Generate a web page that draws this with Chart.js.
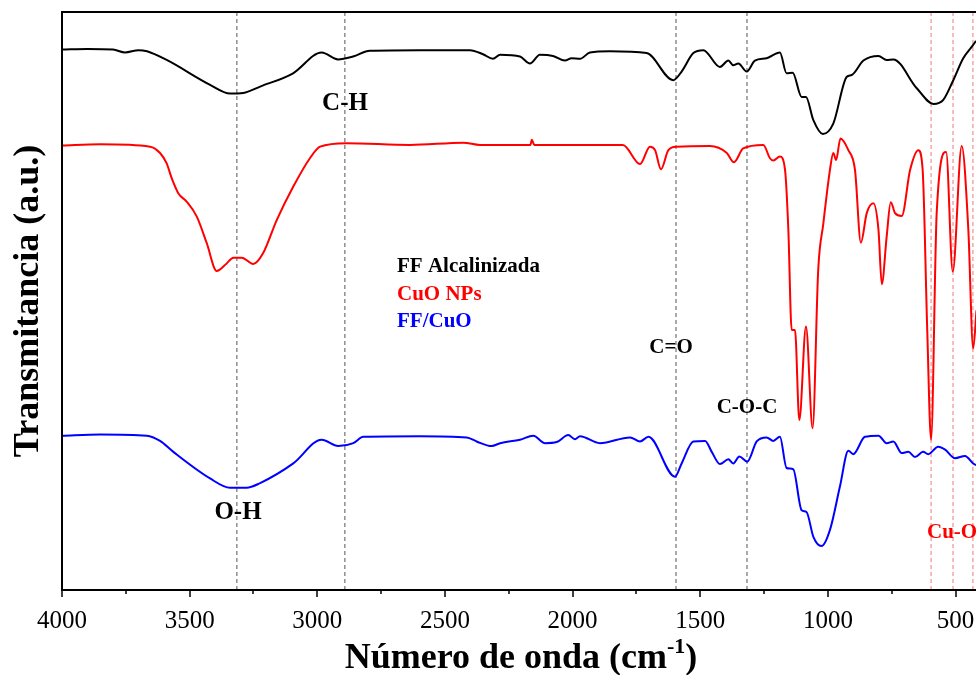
<!DOCTYPE html>
<html lang="es">
<head>
  <meta charset="UTF-8">
  <title>FTIR FF / CuO</title>
  <script src="https://cdn.jsdelivr.net/npm/chart.js"></script>
  <style>
    * {
      margin: 0;
      padding: 0;
      box-sizing: border-box;
    }

    body {
      background: #fff;
    }

    .chart-box {
      width: 976px;
      height: 675px;
      position: relative;
    }
  </style>
</head>
<body>
  <div class="chart-box">
    <canvas id="ftir-chart"></canvas>
  </div>

  <script>
    // wavenumbers (cm-1) and transmittance (a.u.)
    const ffWave = [4000, 3900, 3800, 3753, 3700, 3667, 3590, 3420, 3342, 3290, 3224, 3095, 2983, 2919, 2860, 2794, 2600, 2402, 2351, 2312, 2284, 2206, 2167, 2128, 2077, 2030, 2004, 1971, 1932, 1854, 1710, 1606, 1573, 1527, 1488, 1423, 1390, 1371, 1351, 1318, 1286, 1240, 1188, 1162, 1138, 1103, 1086, 1057, 1020, 979, 926, 907, 861, 802, 770, 744, 652, 587, 548, 509, 470, 431, 420];
    const ffT = [93.5, 93.6, 93.5, 93.0, 93.4, 93.2, 91.7, 87.4, 85.9, 86.0, 87.1, 89.4, 93.0, 91.8, 92.3, 93.3, 93.4, 93.4, 92.7, 91.9, 92.6, 92.3, 91.1, 92.6, 92.4, 91.6, 92.0, 91.9, 93.0, 93.2, 92.9, 88.2, 89.7, 92.9, 93.4, 90.5, 91.6, 90.8, 91.1, 89.7, 91.6, 92.0, 93.0, 89.4, 89.5, 85.3, 85.3, 81.3, 78.9, 80.7, 88.8, 89.1, 91.6, 92.4, 91.7, 91.8, 86.8, 84.1, 84.8, 88.2, 92.0, 94.3, 95.0];

    const cuoWave = [4000, 3850, 3655, 3616, 3590, 3570, 3544, 3512, 3472, 3433, 3394, 3355, 3329, 3296, 3251, 3212, 3159, 3094, 3029, 2989, 2885, 2637, 2428, 2363, 2206, 2165, 2160, 2150, 2000, 1893, 1803, 1736, 1697, 1677, 1654, 1625, 1593, 1462, 1396, 1368, 1332, 1253, 1227, 1214, 1188, 1168, 1155, 1142, 1129, 1112, 1086, 1060, 1038, 1018, 992, 979, 968, 951, 920, 894, 871, 848, 822, 802, 789, 770, 754, 737, 711, 678, 646, 629, 611, 596, 574, 537, 511, 476, 450, 431, 418];
    const cuoT = [76.9, 77.1, 76.7, 75.6, 73.8, 71.2, 68.6, 67.2, 64.6, 60.0, 55.2, 56.5, 57.5, 57.5, 56.4, 58.3, 64.0, 69.8, 74.7, 76.7, 77.3, 77.0, 77.4, 77.0, 77.0, 77.0, 77.9, 77.0, 77.0, 77.0, 77.0, 73.7, 76.7, 76.1, 72.8, 76.1, 76.7, 76.8, 75.6, 74.0, 76.4, 77.0, 74.7, 74.3, 75.0, 72.7, 62.3, 45.0, 45.0, 29.4, 45.6, 28.0, 55.4, 63.4, 72.7, 75.6, 74.4, 78.1, 76.1, 72.7, 60.1, 65.2, 66.9, 62.3, 52.9, 61.1, 67.1, 65.2, 64.7, 72.7, 76.1, 72.7, 45.0, 26.0, 65.2, 75.8, 55.1, 76.8, 62.3, 41.8, 48.4];

    const ffcuoWave = [4000, 3850, 3668, 3616, 3564, 3420, 3342, 3277, 3224, 3094, 2983, 2918, 2859, 2820, 2600, 2415, 2376, 2317, 2284, 2206, 2154, 2108, 2062, 2017, 1991, 1971, 1893, 1775, 1736, 1703, 1599, 1573, 1527, 1481, 1455, 1423, 1390, 1371, 1347, 1316, 1279, 1240, 1214, 1188, 1162, 1136, 1103, 1084, 1057, 1025, 992, 953, 920, 901, 855, 802, 770, 744, 711, 685, 659, 627, 607, 568, 541, 502, 463, 431, 420];
    const ffcuoT = [26.7, 26.9, 26.7, 25.8, 23.9, 19.3, 17.7, 17.7, 18.5, 21.9, 26.0, 24.9, 25.4, 26.5, 26.6, 26.4, 25.7, 24.9, 25.4, 26.0, 26.7, 25.4, 25.6, 26.8, 26.1, 26.6, 25.4, 26.4, 25.7, 26.5, 19.6, 21.9, 25.7, 25.8, 23.9, 21.8, 22.6, 21.9, 23.1, 22.2, 25.7, 26.4, 25.8, 26.5, 21.1, 20.9, 13.8, 13.5, 9.2, 7.6, 10.4, 17.9, 24.1, 23.5, 26.5, 26.7, 25.4, 25.7, 23.7, 23.9, 23.0, 23.9, 23.5, 24.8, 24.3, 22.8, 23.2, 21.9, 21.6];

    const seriesNames = ['FF Alcalinizada', 'CuO NPs', 'FF/CuO'];
    const seriesColors = ['#000000', '#ff0000', '#0000ff'];

    // band positions marked with dashed lines
    const bandLinesBlack = [3315, 2892, 1595, 1317];
    const bandLinesRed = [596, 510, 432];

    const xTicks = [4000, 3750, 3500, 3250, 3000, 2750, 2500, 2250, 2000, 1750, 1500, 1250, 1000, 750, 500];
    const xMin = 420, xMax = 4000;

    const toPoints = (xs, ys) => xs.map((x, i) => ({ x: x, y: ys[i] }));
    const vLine = (x) => [{ x: x, y: 0 }, { x: x, y: 100 }];

    const serif = "'Liberation Serif', 'Times New Roman', serif";

    const datasets = [];
    bandLinesBlack.forEach(x => datasets.push({
      data: vLine(x), borderColor: '#555', borderWidth: 1, borderDash: [4, 3],
      pointRadius: 0, order: 5
    }));
    bandLinesRed.forEach(x => datasets.push({
      data: vLine(x), borderColor: '#f07878', borderWidth: 1, borderDash: [4, 3],
      pointRadius: 0, order: 5
    }));
    [[ffWave, ffT], [cuoWave, cuoT], [ffcuoWave, ffcuoT]].forEach(([xs, ys], i) => datasets.push({
      label: seriesNames[i],
      data: toPoints(xs, ys),
      borderColor: seriesColors[i],
      borderWidth: 2,
      pointRadius: 0,
      cubicInterpolationMode: 'monotone',
      order: 1
    }));

    // frame, tick marks, titles and band labels
    const decorPlugin = {
      id: 'decor',
      afterDraw(chart) {
        const ctx = chart.ctx;
        const a = chart.chartArea;
        const xs = chart.scales.x;
        ctx.save();

        ctx.strokeStyle = '#000';
        ctx.lineWidth = 2;
        ctx.beginPath();
        ctx.moveTo(a.right, a.top);
        ctx.lineTo(a.left, a.top);
        ctx.lineTo(a.left, a.bottom);
        ctx.lineTo(a.right, a.bottom);
        ctx.stroke();

        ctx.lineWidth = 1.5;
        xTicks.forEach(v => {
          const px = Math.round(xs.getPixelForValue(v));
          const len = v % 500 === 0 ? 7 : 4;
          ctx.beginPath();
          ctx.moveTo(px, a.bottom);
          ctx.lineTo(px, a.bottom + len);
          ctx.stroke();
        });

        // x title with superscript
        ctx.fillStyle = '#000';
        ctx.textBaseline = 'alphabetic';
        ctx.textAlign = 'left';
        const big = 'bold 36px ' + serif;
        const small = 'bold 22px ' + serif;
        const t1 = 'Número de onda (cm', t2 = '-1', t3 = ')';
        ctx.font = big;
        const w1 = ctx.measureText(t1).width, w3 = ctx.measureText(t3).width;
        ctx.font = small;
        const w2 = ctx.measureText(t2).width;
        let x0 = 521 - (w1 + w2 + w3) / 2;
        const base = 668;
        ctx.font = big;
        ctx.fillText(t1, x0, base);
        ctx.font = small;
        ctx.fillText(t2, x0 + w1, base - 15);
        ctx.font = big;
        ctx.fillText(t3, x0 + w1 + w2, base);

        // y title
        ctx.save();
        ctx.translate(38, 301);
        ctx.rotate(-Math.PI / 2);
        ctx.textAlign = 'center';
        ctx.font = 'bold 36px ' + serif;
        ctx.fillText('Transmitancia (a.u.)', 0, 0);
        ctx.restore();

        // band labels
        ctx.textAlign = 'center';
        ctx.font = 'bold 25px ' + serif;
        ctx.fillText('C-H', 345, 110);
        ctx.fillText('O-H', 238, 519);
        ctx.font = 'bold 21px ' + serif;
        ctx.fillText('C=O', 671, 353);
        ctx.fillText('C-O-C', 747, 413);
        ctx.textAlign = 'left';
        ctx.fillStyle = '#ff0000';
        ctx.fillText('Cu-O', 927, 538);

        // legend as coloured text
        ctx.font = 'bold 21px ' + serif;
        seriesNames.forEach((name, i) => {
          ctx.fillStyle = seriesColors[i];
          ctx.fillText(name, 397, 272 + i * 27.5);
        });

        ctx.restore();
      }
    };

    new Chart(document.getElementById('ftir-chart'), {
      type: 'line',
      data: { datasets: datasets },
      options: {
        responsive: true,
        maintainAspectRatio: false,
        animation: false,
        layout: { padding: { left: 62, top: 12, right: 0, bottom: 0 } },
        plugins: {
          legend: { display: false },
          tooltip: { enabled: false }
        },
        scales: {
          x: {
            type: 'linear',
            reverse: true,
            min: xMin,
            max: xMax,
            afterBuildTicks: (scale) => { scale.ticks = xTicks.map(v => ({ value: v })); },
            afterFit: (scale) => {
              scale.height = 85;
              scale.paddingLeft = 0;
              scale.paddingRight = 0;
            },
            grid: { display: false, drawTicks: false },
            border: { display: false },
            ticks: {
              autoSkip: false,
              maxRotation: 0,
              padding: 16,
              color: '#000',
              font: { family: serif, size: 25 },
              callback: (v) => (v % 500 === 0 ? String(v) : '')
            }
          },
          y: {
            display: false,
            min: 0,
            max: 100
          }
        }
      },
      plugins: [decorPlugin]
    });
  </script>
</body>
</html>
